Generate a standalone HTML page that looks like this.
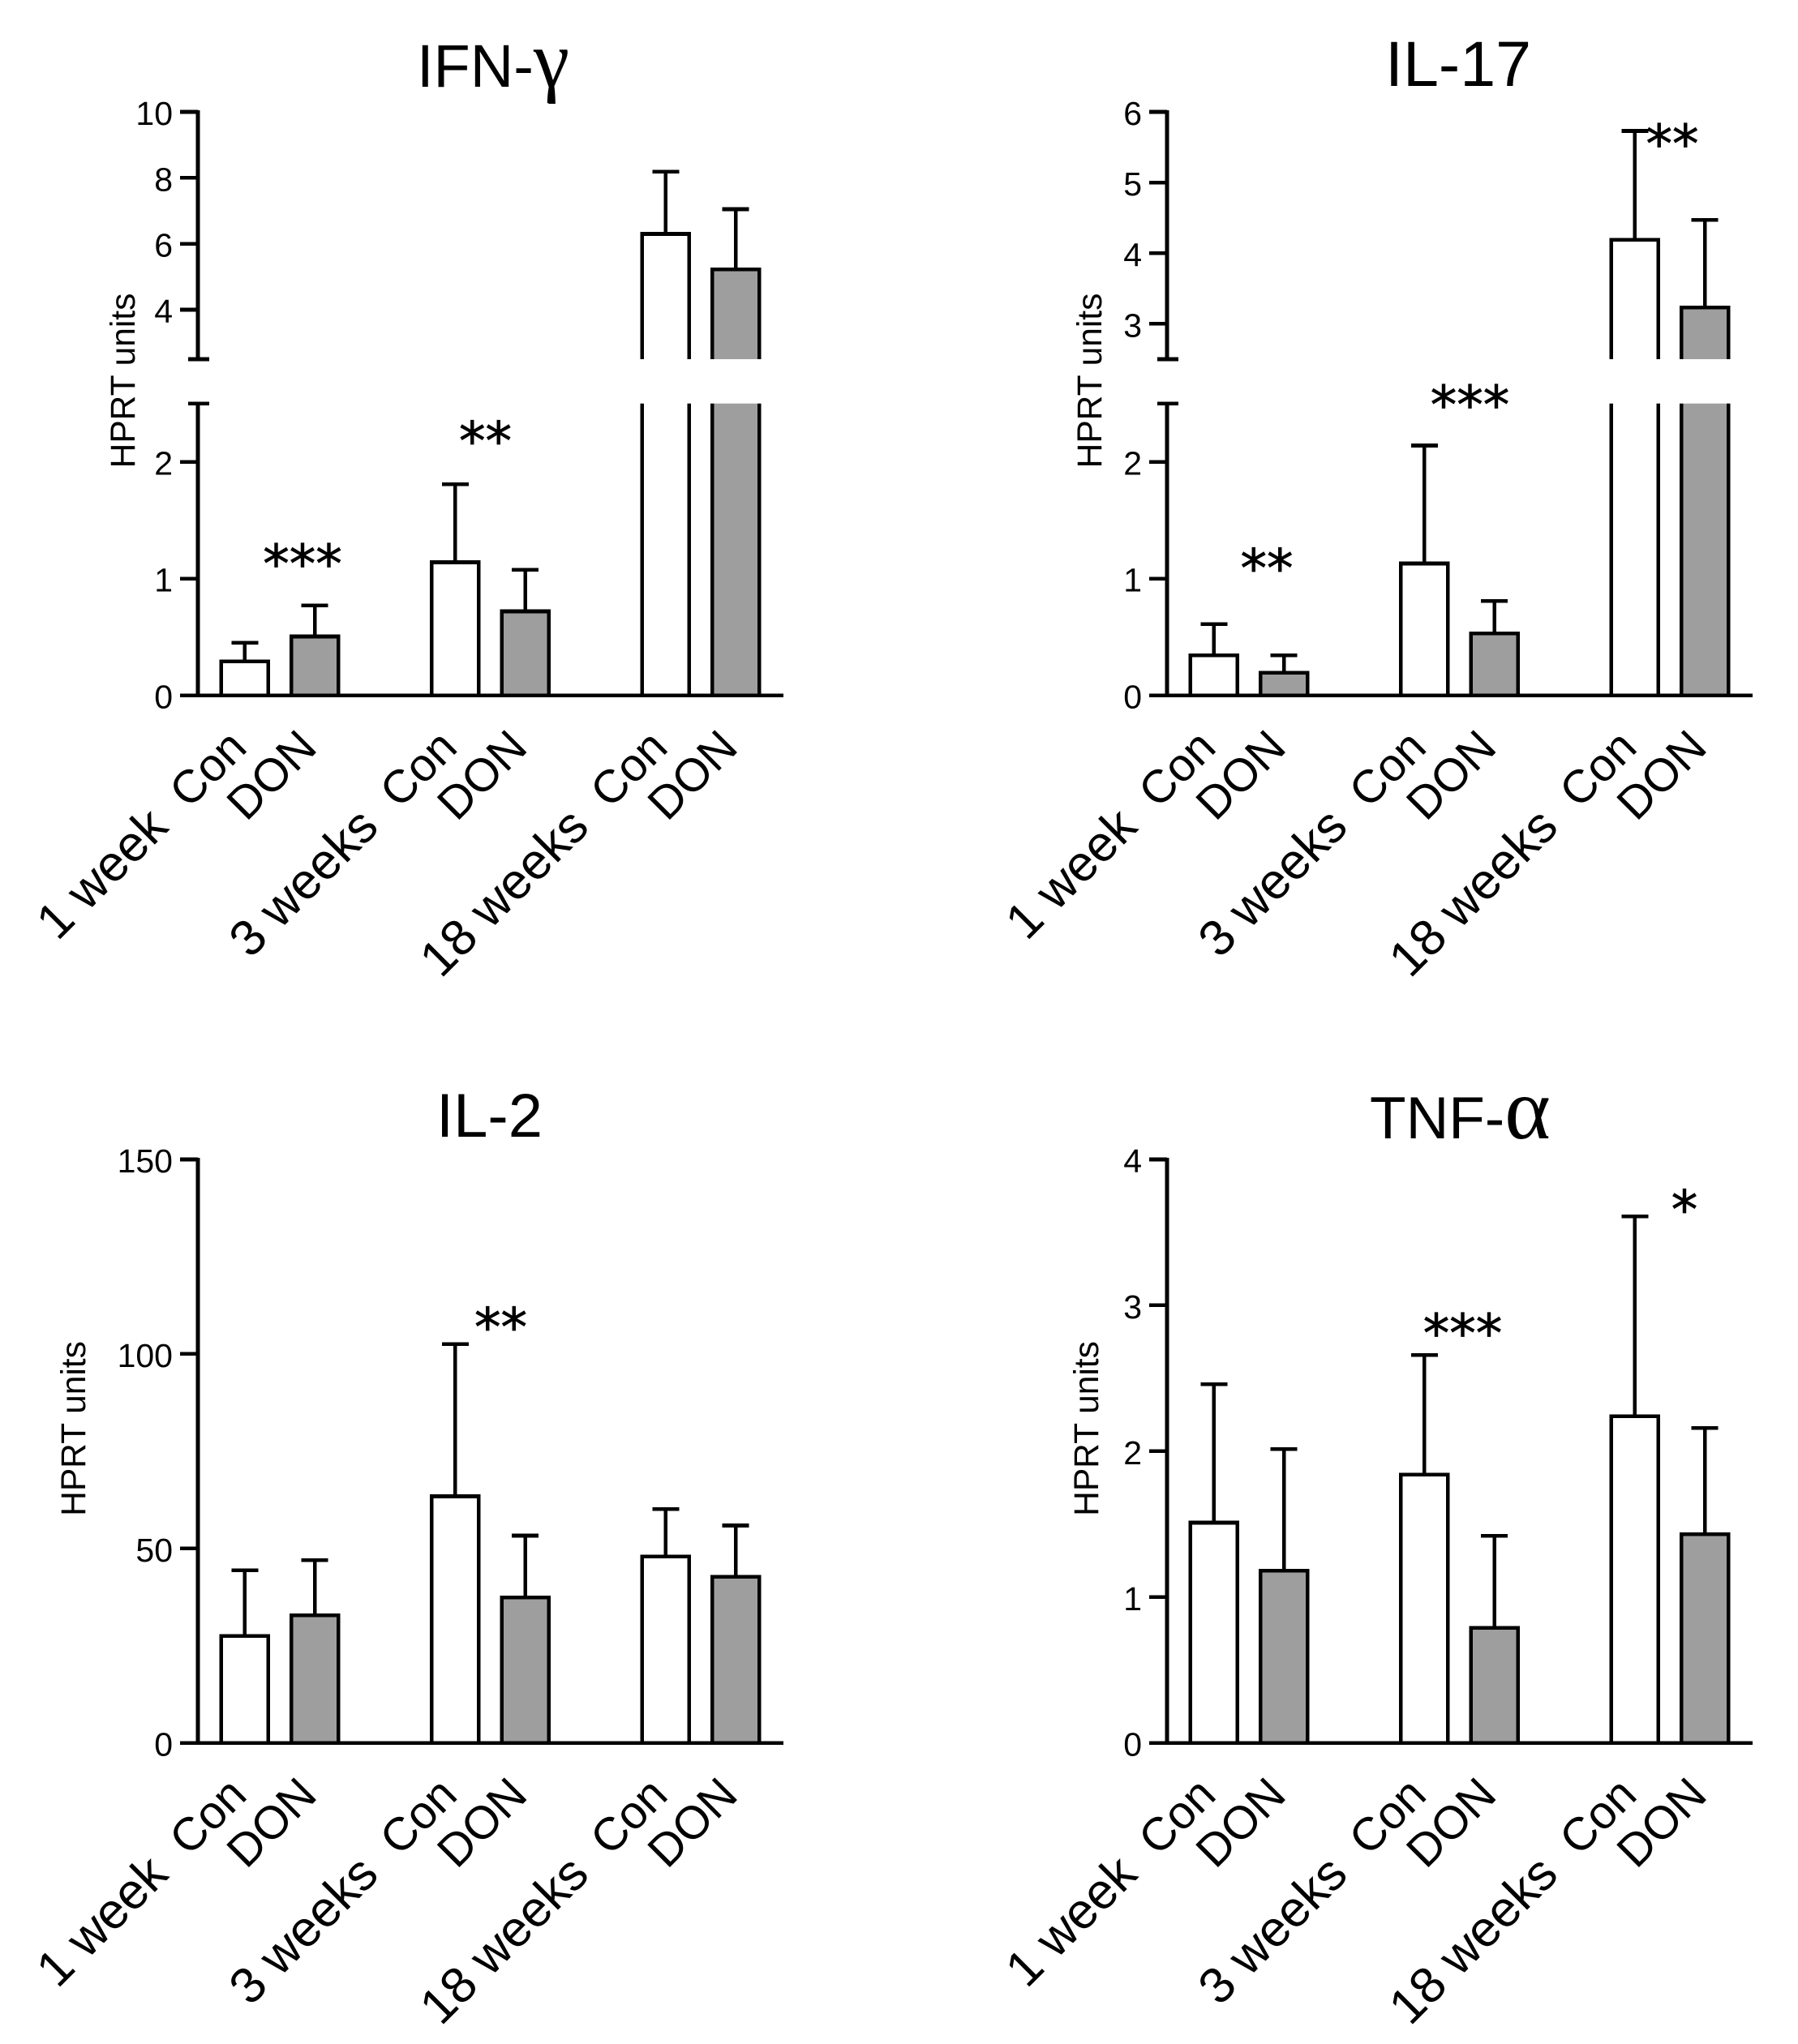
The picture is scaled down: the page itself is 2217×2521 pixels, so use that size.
<!DOCTYPE html>
<html lang="en">
<head>
<meta charset="utf-8">
<title>HPRT units by cytokine</title>
<style>
html,body{margin:0;padding:0;background:#fff;}
svg{display:block;}
text{font-family:"Liberation Sans",sans-serif;fill:#000;}
</style>
</head>
<body>
<svg id="figure" xmlns="http://www.w3.org/2000/svg" width="2217" height="2521" viewBox="0 0 2217 2521">
<rect x="0" y="0" width="2217" height="2521" fill="#fff"/>
</svg>
<script>
const groupLabels = ['1 week', '3 weeks', '18 weeks'];
const sampleLabels = ['Con', 'DON'];
const yAxisTitle = 'HPRT units';

const ifnConMeans = [0.29, 1.14, 6.3];
const ifnConTops = [0.45, 1.81, 8.19];
const ifnDonMeans = [0.505, 0.72, 5.22];
const ifnDonTops = [0.77, 1.075, 7.05];
const ifnTicks = [0, 1, 2, 4, 6, 8, 10];
const ifnStarLabels = ['***', '**'];
const ifnStarGroups = [0, 1];
const ifnStarOffsets = [28, -6];
const ifnStarValues = [1.2, 2.25];
const ifnStarUpper = [false, false];

const il17ConMeans = [0.344, 1.13, 4.19];
const il17ConTops = [0.61, 2.14, 5.73];
const il17DonMeans = [0.195, 0.53, 3.23];
const il17DonTops = [0.344, 0.81, 4.47];
const il17Ticks = [0, 1, 2, 3, 4, 5, 6];
const il17StarLabels = ['**', '***', '**'];
const il17StarGroups = [0, 1, 2];
const il17StarOffsets = [22, 13, 3];
const il17StarValues = [1.16, 2.56, 5.67];
const il17StarUpper = [false, false, true];

const il2ConMeans = [27.5, 63.4, 47.9];
const il2ConTops = [44.4, 102.5, 60.1];
const il2DonMeans = [32.8, 37.4, 42.7];
const il2DonTops = [47, 53.3, 55.9];
const il2Ticks = [0, 50, 100, 150];
const il2StarLabels = ['**'];
const il2StarGroups = [1];
const il2StarOffsets = [13];
const il2StarValues = [109];
const il2StarUpper = [false];

const tnfConMeans = [1.51, 1.84, 2.24];
const tnfConTops = [2.46, 2.66, 3.61];
const tnfDonMeans = [1.18, 0.79, 1.43];
const tnfDonTops = [2.015, 1.42, 2.16];
const tnfTicks = [0, 1, 2, 3, 4];
const tnfStarLabels = ['***', '*'];
const tnfStarGroups = [1, 2];
const tnfStarOffsets = [4, 18];
const tnfStarValues = [2.865, 3.715];
const tnfStarUpper = [false, false];

const NS = 'http://www.w3.org/2000/svg';
const svg = document.getElementById('figure');
const INK = '#000';
const GREY = '#9e9e9e';
const LW = 4.6;

function make(parent, tag, attrs, content) {
  const el = document.createElementNS(NS, tag);
  for (const k in attrs) el.setAttribute(k, attrs[k]);
  if (content !== undefined) el.textContent = content;
  parent.appendChild(el);
  return el;
}
function stroke(parent, x1, y1, x2, y2) {
  return make(parent, 'line', {x1: x1, y1: y1, x2: x2, y2: y2, stroke: INK, 'stroke-width': LW, 'shape-rendering': 'crispEdges'});
}

function drawPanel(p) {
  const g = make(svg, 'g', {});
  
  

  const axisX = 244 + p.dx;
  const yOf = function (v, forceLower) {
    if (!p.broken) return p.base - (p.base - p.top) * v / p.max;
    if (v <= 2.5 || forceLower) return p.base - (p.base - p.breakLow) * v / 2.5;
    return p.breakHigh - (p.breakHigh - p.top) * (v - 2.5) / (p.max - 2.5);
  };
  const barCenter = function (group, sample) {
    return axisX + 57.8 + 259.5 * group + 86.4 * sample;
  };

  const title = make(g, 'text', {x: p.titleX, y: p.titleY, 'font-size': p.titleSize});
  
  
  title.appendChild(document.createTextNode(p.title));
  if (p.greek) {
    make(title, 'tspan', {'font-family': '"Liberation Serif", serif', 'font-size': p.greekSize}, p.greek);
  }

  const series = [[p.conMeans, p.conTops, '#fff'], [p.donMeans, p.donTops, GREY]];
  series.forEach(function (s, sIdx) {
    s[0].forEach(function (mean, i) {
      const cx = barCenter(i, sIdx);
      const top = yOf(mean);
      const errTop = yOf(s[1][i]);
      const whisker = stroke(g, cx, top, cx, errTop);
      
      
      const cap = stroke(g, cx - 16.5, errTop, cx + 16.5, errTop);
      
      
      const bar = make(g, 'rect', {x: cx - 29, y: top, width: 58, height: p.base - top, fill: s[2], stroke: INK, 'stroke-width': LW, 'shape-rendering': 'crispEdges'});
      
      
    });
  });

  if (p.broken) {
    const gap = make(g, 'rect', {x: axisX + 18, y: p.breakHigh, width: 722, height: p.breakLow - p.breakHigh, fill: '#fff'});
    
    
    const lowerAxis = stroke(g, axisX, p.base, axisX, p.breakLow);
    
    
    const upperAxis = stroke(g, axisX, p.breakHigh, axisX, p.top - 2);
    
    
    const capLow = stroke(g, axisX - 12, p.breakLow, axisX + 14, p.breakLow);
    
    
    const capHigh = stroke(g, axisX - 12, p.breakHigh, axisX + 14, p.breakHigh);
    
    
  } else {
    const axis = stroke(g, axisX, p.base, axisX, p.top - 2);
    
    
  }

  const xAxis = stroke(g, axisX - 22, p.base, axisX + 722, p.base);
  
  

  p.ticks.forEach(function (t) {
    const y = yOf(t);
    const tick = stroke(g, axisX - 22, y, axisX, y);
    
    
    const label = make(g, 'text', {x: axisX - 31, y: y + 16, 'font-size': 41, 'text-anchor': 'end'}, String(t));
    
    
  });

  const axisTitle = make(g, 'text', {x: 0, y: 0, 'font-size': 42.5, 'text-anchor': 'middle', transform: 'translate(' + (p.axisTitleX + 15) + ' ' + p.axisTitleY + ') rotate(-90)'}, yAxisTitle);
  
  

  groupLabels.forEach(function (name, i) {
    const conX = barCenter(i, 0);
    const groupLabel = make(g, 'text', {x: 0, y: 0, 'font-size': 62, 'text-anchor': 'end', transform: 'translate(' + (conX - 92) + ' ' + (p.base + 165) + ') rotate(-45)'}, name);
    
    
    sampleLabels.forEach(function (sample, sIdx) {
      const sampleLabel = make(g, 'text', {x: 0, y: 0, 'font-size': 57, 'text-anchor': 'end', transform: 'translate(' + (barCenter(i, sIdx) + 5) + ' ' + (p.base + 67) + ') rotate(-45)'}, sample);
      
      
    });
  });

  p.starLabels.forEach(function (stars, i) {
    const cx = (barCenter(p.starGroups[i], 0) + barCenter(p.starGroups[i], 1)) / 2 + p.starOffsets[i];
    const cy = yOf(p.starValues[i], !p.starUpper[i]);
    const mark = make(g, 'text', {x: cx, y: cy + 33, 'font-size': 65, 'text-anchor': 'middle', stroke: '#000', 'stroke-width': 0.8, style: 'font-family:"DejaVu Sans",sans-serif'}, stars);
    
    
  });
}

drawPanel({
  dx: 0, base: 857.7, top: 138, max: 10, broken: true, breakLow: 497.7, breakHigh: 443,
  title: 'IFN-', greek: '\u03B3', titleX: 514, titleY: 107, titleSize: 74, greekSize: 100,
  axisTitleX: 151, axisTitleY: 469.5,
  conMeans: ifnConMeans, conTops: ifnConTops, donMeans: ifnDonMeans, donTops: ifnDonTops, ticks: ifnTicks,
  starLabels: ifnStarLabels, starGroups: ifnStarGroups, starOffsets: ifnStarOffsets, starValues: ifnStarValues, starUpper: ifnStarUpper
});
drawPanel({
  dx: 1195, base: 857.7, top: 138, max: 6, broken: true, breakLow: 497.7, breakHigh: 443,
  title: 'IL-17', greek: '', titleX: 1708, titleY: 106, titleSize: 79,
  axisTitleX: 1343, axisTitleY: 469.5,
  conMeans: il17ConMeans, conTops: il17ConTops, donMeans: il17DonMeans, donTops: il17DonTops, ticks: il17Ticks,
  starLabels: il17StarLabels, starGroups: il17StarGroups, starOffsets: il17StarOffsets, starValues: il17StarValues, starUpper: il17StarUpper
});
drawPanel({
  dx: 0, base: 2149.7, top: 1430, max: 150, broken: false,
  title: 'IL-2', greek: '', titleX: 538, titleY: 1402, titleSize: 76,
  axisTitleX: 90, axisTitleY: 1762,
  conMeans: il2ConMeans, conTops: il2ConTops, donMeans: il2DonMeans, donTops: il2DonTops, ticks: il2Ticks,
  starLabels: il2StarLabels, starGroups: il2StarGroups, starOffsets: il2StarOffsets, starValues: il2StarValues, starUpper: il2StarUpper
});
drawPanel({
  dx: 1195, base: 2149.7, top: 1430, max: 4, broken: false,
  title: 'TNF-', greek: '\u03B1', titleX: 1689, titleY: 1404, titleSize: 73, greekSize: 108,
  axisTitleX: 1339, axisTitleY: 1762,
  conMeans: tnfConMeans, conTops: tnfConTops, donMeans: tnfDonMeans, donTops: tnfDonTops, ticks: tnfTicks,
  starLabels: tnfStarLabels, starGroups: tnfStarGroups, starOffsets: tnfStarOffsets, starValues: tnfStarValues, starUpper: tnfStarUpper
});
</script>
</body>
</html>
